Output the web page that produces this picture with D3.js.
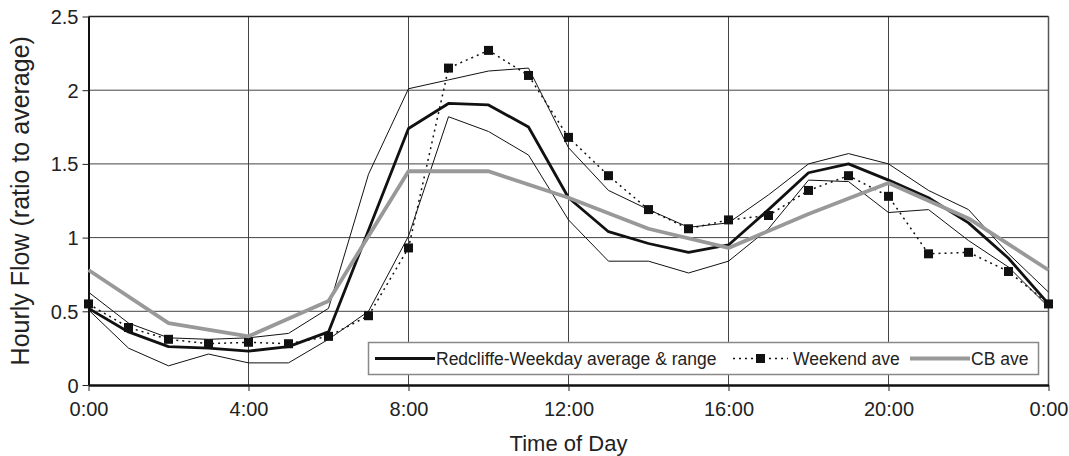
<!DOCTYPE html>
<html>
<head>
<meta charset="utf-8">
<script src="https://cdn.jsdelivr.net/npm/d3@7"></script>
<style>
  html, body { margin: 0; padding: 0; background: #fff; }
  svg { display: block; font-family: "Liberation Sans", Arial, sans-serif; }
</style>
</head>
<body>
<script>
// hourly values
var hours = d3.range(0, 25);
var weekdayAvg = [0.52, 0.36, 0.26, 0.25, 0.23, 0.26, 0.36, 1.05, 1.74, 1.91, 1.90, 1.75, 1.27,
  1.04, 0.96, 0.90, 0.95, 1.19, 1.44, 1.50, 1.39, 1.27, 1.10, 0.86, 0.55];
var weekdayMax = [0.63, 0.42, 0.32, 0.31, 0.32, 0.35, 0.52, 1.43, 2.01, 2.07, 2.13, 2.15, 1.61,
  1.32, 1.19, 1.07, 1.10, 1.29, 1.50, 1.57, 1.50, 1.32, 1.19, 0.89, 0.63];
var weekdayMin = [0.51, 0.25, 0.13, 0.21, 0.15, 0.15, 0.31, 0.50, 1.01, 1.82, 1.72, 1.56, 1.12,
  0.84, 0.84, 0.76, 0.84, 1.06, 1.39, 1.38, 1.17, 1.19, 0.98, 0.80, 0.53];
var weekend = [0.55, 0.39, 0.31, 0.28, 0.29, 0.28, 0.33, 0.47, 0.93, 2.15, 2.27, 2.10, 1.68,
  1.42, 1.19, 1.06, 1.12, 1.15, 1.32, 1.42, 1.28, 0.89, 0.90, 0.77, 0.55];
var cbHours = [0, 2, 4, 6, 8, 10, 12, 14, 16, 18, 20, 22, 24];
var cbAve = [0.78, 0.42, 0.33, 0.57, 1.45, 1.45, 1.27, 1.06, 0.93, 1.16, 1.37, 1.13, 0.78];

var xTicks = [0, 4, 8, 12, 16, 20, 24];
var yTicks = [0, 0.5, 1, 1.5, 2, 2.5];
var legendLabels = ["Redcliffe-Weekday average & range", "Weekend ave", "CB ave"];

var width = 1069, height = 456;
var plotLeft = 88.5, plotRight = 1048.5, plotTop = 16.5, plotBottom = 385;

var svg = d3.select("body").append("svg")
  .attr("width", width)
  .attr("height", height);

var x = d3.scaleLinear().domain([0, 24]).range([plotLeft, plotRight]);
var y = d3.scaleLinear().domain([0, 2.5]).range([plotBottom, plotTop]);

// grid
svg.append("g").selectAll("line")
  .data(yTicks.filter(d => d > 0))
  .join("line")
  .attr("x1", plotLeft).attr("x2", plotRight)
  .attr("y1", d => y(d)).attr("y2", d => y(d))
  .attr("stroke", "#444").attr("stroke-width", 1);
svg.append("g").selectAll("line")
  .data(xTicks.filter(d => d > 0 && d < 24))
  .join("line")
  .attr("y1", plotTop).attr("y2", plotBottom)
  .attr("x1", d => x(d)).attr("x2", d => x(d))
  .attr("stroke", "#444").attr("stroke-width", 1);

// frame
svg.append("line").attr("x1", plotLeft).attr("x2", plotRight).attr("y1", plotTop).attr("y2", plotTop)
  .attr("stroke", "#222").attr("stroke-width", 1.5);
svg.append("line").attr("x1", plotRight).attr("x2", plotRight).attr("y1", plotTop).attr("y2", plotBottom)
  .attr("stroke", "#555").attr("stroke-width", 1.5);

// axes
var xAxis = svg.append("g")
  .attr("transform", "translate(0," + plotBottom + ")")
  .call(d3.axisBottom(x).tickValues(xTicks).tickSizeInner(6).tickSizeOuter(0)
    .tickFormat(d => (d % 24) + ":00"));
xAxis.select(".domain").attr("stroke", "#111").attr("stroke-width", 2.5);
xAxis.selectAll(".tick line").attr("stroke", "#222");
xAxis.selectAll("text").attr("font-size", 20).attr("fill", "#222").attr("dy", null).attr("y", 31);

var yAxis = svg.append("g")
  .attr("transform", "translate(" + plotLeft + ",0)")
  .call(d3.axisLeft(y).tickValues(yTicks).tickSizeInner(6).tickSizeOuter(0)
    .tickFormat(d3.format("")));
yAxis.select(".domain").attr("stroke", "#111").attr("stroke-width", 2);
yAxis.selectAll(".tick line").attr("stroke", "#222");
yAxis.selectAll("text").attr("font-size", 20).attr("fill", "#222").attr("x", -10).attr("dy", "0.35em");

// axis titles
svg.append("text")
  .attr("x", (plotLeft + plotRight) / 2).attr("y", 451)
  .attr("text-anchor", "middle")
  .attr("font-size", 22).attr("fill", "#222")
  .text("Time of Day");
svg.append("text")
  .attr("transform", "translate(28.5," + ((plotTop + plotBottom) / 2) + ") rotate(-90)")
  .attr("text-anchor", "middle")
  .attr("font-size", 25).attr("fill", "#222")
  .text("Hourly Flow (ratio to average)");

// series
var line = d3.line().x(d => x(d[0])).y(d => y(d[1]));
var pairs = (xs, vs) => xs.map((h, i) => [h, vs[i]]);

svg.append("path").datum(pairs(hours, weekdayMax)).attr("d", line)
  .attr("fill", "none").attr("stroke", "#111").attr("stroke-width", 1);
svg.append("path").datum(pairs(hours, weekdayMin)).attr("d", line)
  .attr("fill", "none").attr("stroke", "#111").attr("stroke-width", 1);
svg.append("path").datum(pairs(hours, weekdayAvg)).attr("d", line)
  .attr("fill", "none").attr("stroke", "#111").attr("stroke-width", 2.8)
  .attr("stroke-linejoin", "round");
svg.append("path").datum(pairs(hours, weekend)).attr("d", line)
  .attr("fill", "none").attr("stroke", "#111").attr("stroke-width", 1.5)
  .attr("stroke-dasharray", "2,4");
svg.append("g").selectAll("rect")
  .data(pairs(hours, weekend))
  .join("rect")
  .attr("x", d => x(d[0]) - 4.5).attr("y", d => y(d[1]) - 4.5)
  .attr("width", 9).attr("height", 9)
  .attr("fill", "#111");
svg.append("path").datum(pairs(cbHours, cbAve)).attr("d", line)
  .attr("fill", "none").attr("stroke", "#999").attr("stroke-width", 3.8)
  .attr("stroke-linejoin", "round");

// legend
var lg = svg.append("g");
lg.append("rect")
  .attr("x", 368.5).attr("y", 342.5).attr("width", 670).attr("height", 32)
  .attr("fill", "#fff").attr("stroke", "#888").attr("stroke-width", 1.5);
var ly = 358.5;
lg.append("line").attr("x1", 375).attr("x2", 435).attr("y1", ly).attr("y2", ly)
  .attr("stroke", "#111").attr("stroke-width", 2.8);
lg.append("text").attr("x", 436).attr("y", ly).attr("dy", "0.35em")
  .attr("font-size", 17.5).attr("fill", "#222").text(legendLabels[0]);
lg.append("line").attr("x1", 733).attr("x2", 788).attr("y1", ly).attr("y2", ly)
  .attr("stroke", "#111").attr("stroke-width", 1.5).attr("stroke-dasharray", "2,4");
lg.append("rect").attr("x", 760.5 - 4.5).attr("y", ly - 4.5).attr("width", 9).attr("height", 9)
  .attr("fill", "#111");
lg.append("text").attr("x", 793).attr("y", ly).attr("dy", "0.35em")
  .attr("font-size", 17.5).attr("fill", "#222").text(legendLabels[1]);
lg.append("line").attr("x1", 910).attr("x2", 970).attr("y1", ly).attr("y2", ly)
  .attr("stroke", "#999").attr("stroke-width", 3.8);
lg.append("text").attr("x", 971).attr("y", ly).attr("dy", "0.35em")
  .attr("font-size", 17.5).attr("fill", "#222").text(legendLabels[2]);
</script>
</body>
</html>
